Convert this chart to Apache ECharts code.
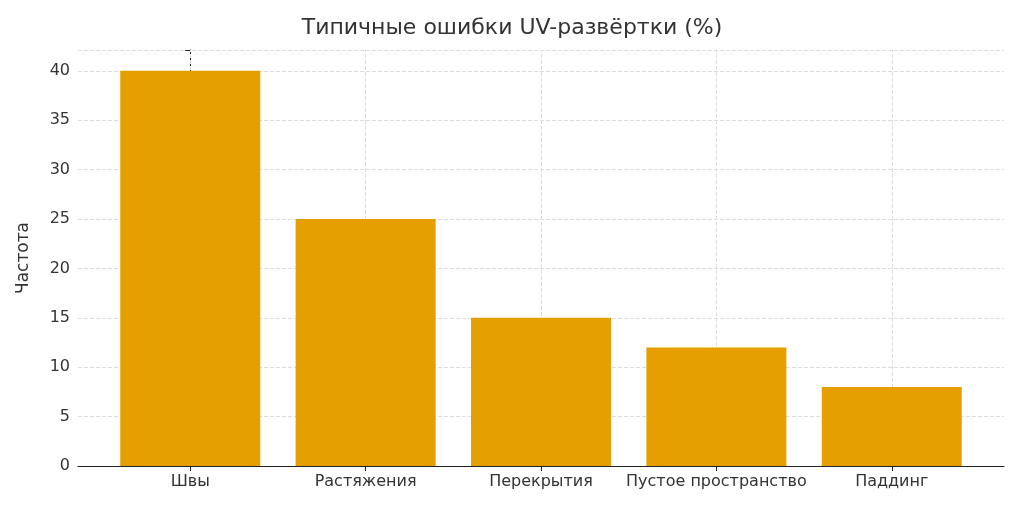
<!DOCTYPE html>
<html><head><meta charset="utf-8">
<script src="https://cdn.jsdelivr.net/npm/echarts@6/dist/echarts.min.js"></script>
<style>html,body{margin:0;padding:0;background:#fff}#c{width:1024px;height:513px}</style>
</head><body><div id="c"></div>
<script>
const categories = ['Швы','Растяжения','Перекрытия','Пустое пространство','Паддинг'];
const values = [40, 25, 15, 12, 8];
const yTicks = [0,5,10,15,20,25,30,35,40];
const chart = echarts.init(document.getElementById('c'));
const idx = categories.map((_, i) => i);
chart.setOption({
  animation:false,
  title:{text:'Типичные ошибки UV-развёртки (%)',left:'center',top:12,textStyle:{fontFamily:'DejaVu Sans',fontSize:22,fontWeight:'normal',color:'#333'}},
  grid:{left:78,right:20,top:50,bottom:47},
  xAxis:{type:'value',min:-0.64,max:4.64,
    axisLine:{show:true,lineStyle:{color:'#222'}},
    axisTick:{show:true,customValues:idx,length:5,lineStyle:{color:'#222'}},
    axisLabel:{customValues:idx,formatter:v=>categories[Math.round(v)],fontFamily:'DejaVu Sans',fontSize:16,color:'#333',margin:8},
    splitLine:{show:false}},
  yAxis:{type:'value',min:0,max:42.1,interval:5,name:'Частота',nameLocation:'middle',nameGap:46,
    nameTextStyle:{fontFamily:'DejaVu Sans',fontSize:17,color:'#333'},
    axisLine:{show:true,lineStyle:{color:'#222'}},
    axisTick:{show:true,length:5,lineStyle:{color:'#222'}},
    axisLabel:{fontFamily:'DejaVu Sans',fontSize:16,color:'#333',formatter:v=>yTicks.includes(v)?v:''},
    splitLine:{show:true,lineStyle:{type:'dashed',color:'#ddd'}}},
  series:[{type:'bar',barWidth:140,data:values.map((v,i)=>[i,v]),itemStyle:{color:'#E69F00'},z:3,
    markLine:{silent:true,symbol:'none',label:{show:false},lineStyle:{type:'dashed',color:'#ddd',width:1},
      data:idx.map(i=>({xAxis:i})),z:1}}]
});
</script></body></html>
